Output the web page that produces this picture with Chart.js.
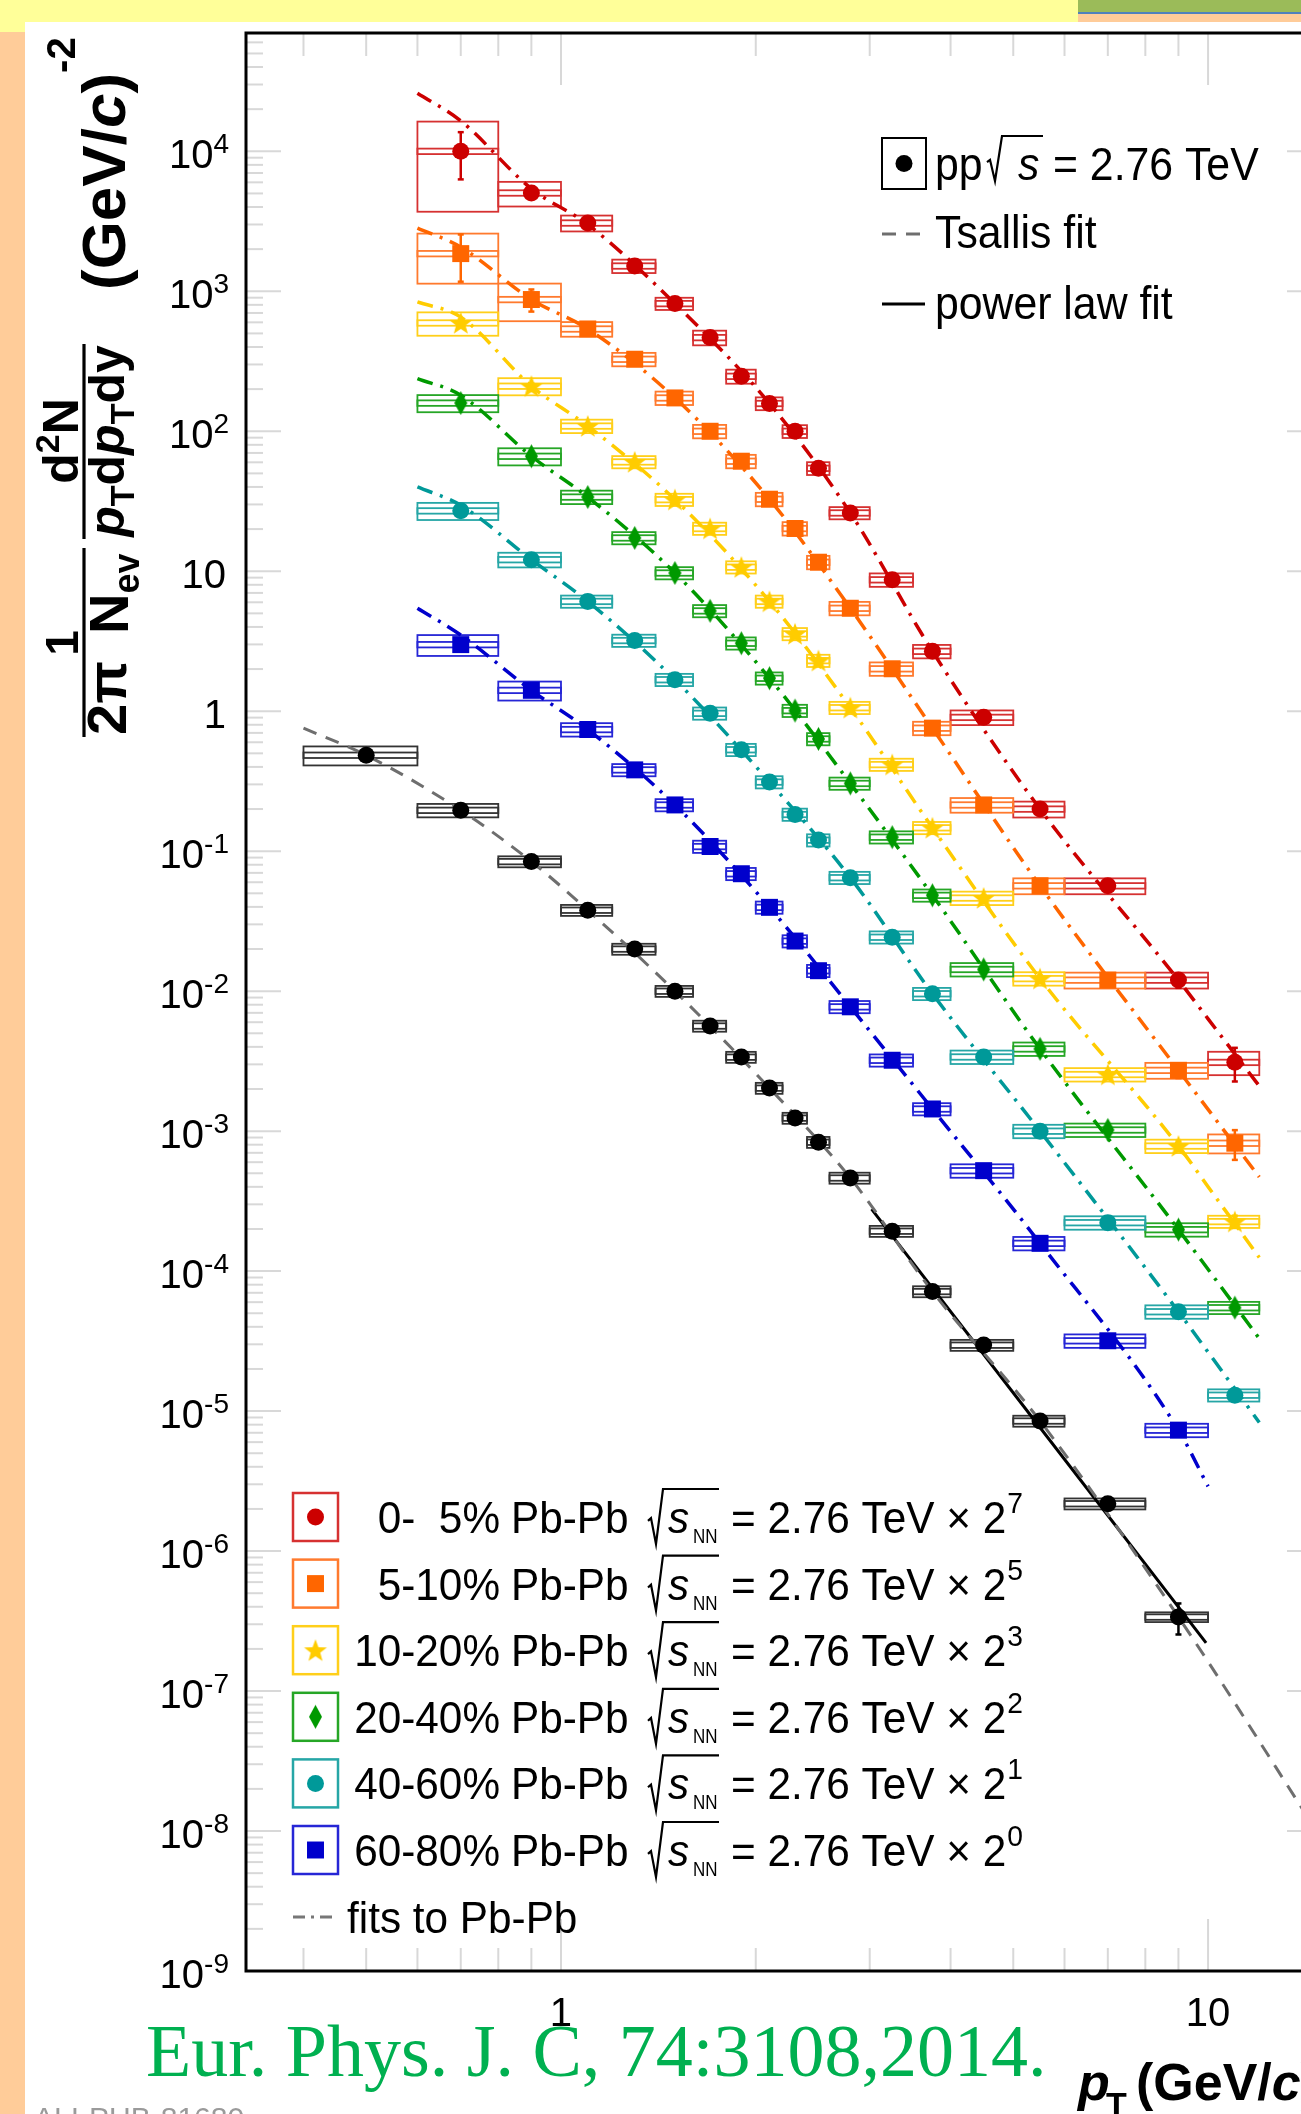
<!DOCTYPE html>
<html>
<head>
<meta charset="utf-8">
<title>pi0 spectra pp and Pb-Pb 2.76 TeV</title>
<script src="https://cdn.jsdelivr.net/npm/chart.js@4.4.0/dist/chart.umd.min.js"></script>
<style>
  html, body { margin: 0; padding: 0; overflow: hidden; background: #fff; }
  #box { width: 1360px; height: 2114px; }
</style>
</head>
<body>
<div id="box"><canvas id="spectra" width="1360" height="2114"></canvas></div>
<script>
const CANVAS_W = 1360, CANVAS_H = 2114;
const X_MIN = 0.326, X_MAX = 15;
const Y_MIN = 1e-9, Y_MAX = 7e4;

// --- axis ticks ---
const X_TICKS = [1, 10];
const Y_TICK_EXP = [-9, -8, -7, -6, -5, -4, -3, -2, -1, 0, 1, 2, 3, 4];

// --- pT bins (GeV/c) ---
const BIN_EDGES = [0.4, 0.6, 0.8, 1.0, 1.2, 1.4, 1.6, 1.8, 2.0, 2.2, 2.4, 2.6, 3.0, 3.5, 4.0, 5.0, 6.0, 8.0, 10.0, 12.0];
const PT_PBPB = [0.7, 0.9, 1.1, 1.3, 1.5, 1.7, 1.9, 2.1, 2.3, 2.5, 2.8, 3.25, 3.75, 4.5, 5.5, 7, 9, 11];
const PT_PP = [0.5, 0.7, 0.9, 1.1, 1.3, 1.5, 1.7, 1.9, 2.1, 2.3, 2.5, 2.8, 3.25, 3.75, 4.5, 5.5, 7, 9];

// yields, already scaled by the factor in the legend
const Y_0_5 = [1.00e4, 5040, 3075, 1516, 817, 467, 247, 158, 100, 54.4, 26.1, 8.69, 2.68, 0.904, 0.200, 0.0566, 0.0120, 0.00310];
const Y_5_10 = [1858, 873, 538, 327, 173, 100, 61.1, 32.7, 20.2, 11.6, 5.44, 2.01, 0.757, 0.214, 0.0566, 0.0120, 0.00272, 0.00082];
const Y_10_20 = [594, 210, 109, 60.4, 32.5, 20.2, 10.7, 6.09, 3.57, 2.30, 1.06, 0.416, 0.147, 0.0463, 0.0123, 0.00254, 0.000783, 0.000226];
const Y_20_40 = [159, 66.3, 33.9, 17.3, 9.72, 5.21, 3.06, 1.72, 1.01, 0.634, 0.305, 0.126, 0.0484, 0.0143, 0.00387, 0.00102, 0.000198, 5.48e-5];
const Y_40_60 = [27.0, 12.1, 6.09, 3.20, 1.68, 0.966, 0.531, 0.312, 0.183, 0.120, 0.0647, 0.0243, 0.00959, 0.00339, 0.00100, 0.000222, 5.13e-5, 1.30e-5];
const Y_60_80 = [2.99, 1.41, 0.740, 0.381, 0.214, 0.108, 0.0690, 0.0397, 0.0228, 0.0140, 0.00773, 0.00321, 0.00144, 0.000522, 0.000158, 3.18e-5, 7.31e-6];
const Y_PP = [0.485, 0.196, 0.0843, 0.0379, 0.0200, 0.0100, 0.00564, 0.00338, 0.00203, 0.00124, 0.000834, 0.000463, 0.000193, 7.15e-5, 2.96e-5, 8.5e-6, 2.18e-6, 3.38e-7];

// relative systematic (box) and statistical (bar) errors
const SYS_0_5 = [0.63, 0.20, 0.13, 0.11, 0.10, 0.12, 0.115, 0.105, 0.105, 0.105, 0.10, 0.11, 0.11, 0.12, 0.13, 0.13, 0.13, 0.19];
const SYS_5_10 = [0.39, 0.30, 0.12, 0.11, 0.11, 0.11, 0.11, 0.11, 0.11, 0.11, 0.11, 0.11, 0.11, 0.12, 0.13, 0.13, 0.13, 0.155];
const SYS_10_20 = [0.19, 0.14, 0.11, 0.10, 0.10, 0.10, 0.10, 0.10, 0.10, 0.10, 0.10, 0.10, 0.10, 0.11, 0.11, 0.11, 0.11, 0.10];
const SYS_20_40 = [0.14, 0.14, 0.11, 0.10, 0.10, 0.10, 0.10, 0.10, 0.10, 0.10, 0.10, 0.10, 0.10, 0.11, 0.11, 0.11, 0.11, 0.10];
const SYS_40_60 = [0.14, 0.12, 0.10, 0.10, 0.10, 0.10, 0.10, 0.10, 0.10, 0.10, 0.10, 0.10, 0.10, 0.11, 0.11, 0.11, 0.11, 0.10];
const SYS_60_80 = [0.17, 0.155, 0.11, 0.10, 0.10, 0.10, 0.10, 0.10, 0.10, 0.10, 0.10, 0.10, 0.10, 0.11, 0.11, 0.11, 0.11];
const SYS_PP = [0.155, 0.11, 0.09, 0.09, 0.09, 0.09, 0.09, 0.09, 0.09, 0.09, 0.09, 0.09, 0.09, 0.09, 0.09, 0.09, 0.09, 0.08];
const SYS_INNER = 0.045;

const STAT_0_5 = [0.37, 0.05, 0.03, 0.03, 0.03, 0.03, 0.03, 0.03, 0.03, 0.03, 0.03, 0.03, 0.04, 0.05, 0.06, 0.08, 0.12, 0.27];
const STAT_5_10 = [0.37, 0.18, 0.04, 0.03, 0.03, 0.03, 0.03, 0.03, 0.03, 0.03, 0.03, 0.03, 0.04, 0.05, 0.06, 0.08, 0.12, 0.24];
const STAT_10_20 = [0.06, 0.04, 0.03, 0.03, 0.03, 0.03, 0.03, 0.03, 0.03, 0.03, 0.03, 0.03, 0.03, 0.04, 0.05, 0.06, 0.08, 0.10];
const STAT_20_40 = [0.05, 0.04, 0.03, 0.03, 0.03, 0.03, 0.03, 0.03, 0.03, 0.03, 0.03, 0.03, 0.03, 0.04, 0.05, 0.06, 0.08, 0.10];
const STAT_40_60 = [0.05, 0.04, 0.03, 0.03, 0.03, 0.03, 0.03, 0.03, 0.03, 0.03, 0.03, 0.03, 0.03, 0.04, 0.05, 0.06, 0.08, 0.10];
const STAT_60_80 = [0.05, 0.04, 0.03, 0.03, 0.03, 0.03, 0.03, 0.03, 0.03, 0.03, 0.03, 0.03, 0.03, 0.04, 0.05, 0.06, 0.10];
const STAT_PP = [0.02, 0.02, 0.02, 0.02, 0.02, 0.02, 0.02, 0.02, 0.02, 0.02, 0.02, 0.02, 0.03, 0.03, 0.04, 0.06, 0.10, 0.25];

// fit curves
const FIT_PT = [0.6, 0.7, 0.9, 1.1, 1.5, 2.1, 2.8, 3.75, 5.5, 9, 10, 12];
const FIT_0_5 = [2.6e4, 1.65e4, 5400, 3000, 817, 158, 26.1, 2.68, 0.200, 0.0120, 0.00634, 0.0021];
const FIT_5_10 = [2830, 2070, 873, 538, 173, 32.7, 5.44, 0.757, 0.0566, 0.00272, 0.00143, 0.00047];
const FIT_10_20 = [839, 654, 210, 109, 32.5, 6.09, 1.06, 0.147, 0.0123, 0.000783, 0.000401, 0.000125];
const FIT_20_40 = [238, 181, 66.3, 33.9, 9.72, 1.72, 0.305, 0.0484, 0.00387, 0.000198, 0.000103, 3.3e-5];
const FIT_40_60 = [40, 29.6, 12.1, 6.09, 1.68, 0.312, 0.0647, 0.00959, 0.00100, 5.13e-5, 2.64e-5, 8.3e-6];
const FIT_60_80 = [5.44, 3.5, 1.41, 0.740, 0.214, 0.0397, 0.00773, 0.00144, 0.000158, 7.31e-6, 2.9e-6, null];
const TSALLIS_PT = [0.4, 0.5, 0.7, 0.9, 1.1, 1.5, 2.1, 2.8, 3.75, 5.5, 9, 15];
const TSALLIS_Y = [0.757, 0.485, 0.196, 0.0843, 0.0379, 0.0100, 0.00203, 0.000463, 7.15e-5, 8.5e-6, 3.38e-7, 8.7e-9];
const POWLAW_PT = [3.02, 9.93];
const POWLAW_Y = [2.77e-4, 2.21e-7];

const LEG_LABELS = ['0-  5%', '5-10%', '10-20%', '20-40%', '40-60%', '60-80%'];
const LEG_EXP = ['7', '5', '3', '2', '1', '0'];

// ---------------------------------------------------------------
const SANS = "'Liberation Sans', Arial, Helvetica, sans-serif";
const f = (s) => s + ' ' + SANS;

function starImg(color, R, r) {
  const c = document.createElement('canvas');
  const s = Math.ceil(2 * R + 2);
  c.width = c.height = s;
  const g = c.getContext('2d');
  g.fillStyle = color;
  g.beginPath();
  for (let k = 0; k < 10; k++) {
    const a = -Math.PI / 2 + k * Math.PI / 5;
    const rr = k % 2 ? r : R;
    g.lineTo(s / 2 + rr * Math.cos(a), s / 2 + 1 + rr * Math.sin(a));
  }
  g.closePath();
  g.fill();
  return c;
}
function diamondImg(color, hw, hh) {
  const c = document.createElement('canvas');
  c.width = Math.ceil(2 * hw + 2); c.height = Math.ceil(2 * hh + 2);
  const g = c.getContext('2d');
  const cx = c.width / 2, cy = c.height / 2;
  g.fillStyle = color;
  g.beginPath();
  g.moveTo(cx, cy - hh); g.lineTo(cx + hw, cy); g.lineTo(cx, cy + hh); g.lineTo(cx - hw, cy);
  g.closePath();
  g.fill();
  return c;
}

const STAR = starImg('#ffcc00', 12, 5);
const DIAMOND = diamondImg('#009900', 6.5, 12);

const SERIES = [
  { pt: PT_PBPB, y: Y_0_5, sys: SYS_0_5, stat: STAT_0_5, color: '#cc0000', box: '#d63131', marker: 'circle', r: 8.5 },
  { pt: PT_PBPB, y: Y_5_10, sys: SYS_5_10, stat: STAT_5_10, color: '#ff6600', box: '#ff7a2e', marker: 'rect', r: 12 },
  { pt: PT_PBPB, y: Y_10_20, sys: SYS_10_20, stat: STAT_10_20, color: '#ffcc00', box: '#ffcf1a', marker: STAR, r: 10 },
  { pt: PT_PBPB, y: Y_20_40, sys: SYS_20_40, stat: STAT_20_40, color: '#009900', box: '#26a626', marker: DIAMOND, r: 10 },
  { pt: PT_PBPB, y: Y_40_60, sys: SYS_40_60, stat: STAT_40_60, color: '#009999', box: '#26a6a6', marker: 'circle', r: 8.5 },
  { pt: PT_PBPB, y: Y_60_80, sys: SYS_60_80, stat: STAT_60_80, color: '#0000cc', box: '#2626d6', marker: 'rect', r: 12 },
  { pt: PT_PP, y: Y_PP, sys: SYS_PP, stat: STAT_PP, color: '#000000', box: '#333333', marker: 'circle', r: 8.5 }
];

const DASHDOT = [16, 8, 3, 8];
const FITS = [
  { x: FIT_PT, y: FIT_0_5, color: '#cc0000', dash: DASHDOT, w: 3.5 },
  { x: FIT_PT, y: FIT_5_10, color: '#ff6600', dash: DASHDOT, w: 3.5 },
  { x: FIT_PT, y: FIT_10_20, color: '#ffcc00', dash: DASHDOT, w: 3.5 },
  { x: FIT_PT, y: FIT_20_40, color: '#009900', dash: DASHDOT, w: 3.5 },
  { x: FIT_PT, y: FIT_40_60, color: '#009999', dash: DASHDOT, w: 3.5 },
  { x: FIT_PT, y: FIT_60_80, color: '#0000cc', dash: DASHDOT, w: 3.5 },
  { x: TSALLIS_PT, y: TSALLIS_Y, color: '#6e6e6e', dash: [14, 10], w: 3 },
  { x: POWLAW_PT, y: POWLAW_Y, color: '#000000', dash: [], w: 3 }
];

function binOf(pt) {
  for (let j = 0; j < BIN_EDGES.length - 1; j++) {
    if (pt > BIN_EDGES[j] && pt < BIN_EDGES[j + 1]) return [BIN_EDGES[j], BIN_EDGES[j + 1]];
  }
  return [pt, pt];
}

function put(c, s, x, y, font, o = {}) {
  c.save();
  c.font = font;
  c.fillStyle = o.color || '#000';
  c.textAlign = o.align || 'left';
  c.textBaseline = 'alphabetic';
  c.translate(x, y);
  c.scale(o.sx || 1, 1);
  c.fillText(s, 0, 0);
  const w = c.measureText(s).width * (o.sx || 1);
  c.restore();
  return w;
}

// text running upwards; x is the baseline on screen, y where the text starts
function rput(c, s, x, y, font) {
  c.save();
  c.translate(x, y);
  c.rotate(-Math.PI / 2);
  c.font = font;
  c.fillStyle = '#000';
  c.fillText(s, 0, 0);
  const w = c.measureText(s).width;
  c.restore();
  return w;
}
function rrun(c, runs, xb, yStart) {
  let y = yStart;
  runs.forEach(r => { y -= rput(c, r.t, xb + (r.dx || 0), y, r.f) + (r.gap || 0); });
  return yStart - y;
}
function rlen(c, runs) {
  let L = 0;
  runs.forEach(r => { c.font = r.f; L += c.measureText(r.t).width + (r.gap || 0); });
  return L;
}

function seg(c, x1, y1, x2, y2) {
  c.beginPath(); c.moveTo(x1, y1); c.lineTo(x2, y2); c.stroke();
}

function radical(c, x0, x1, yTop, yBot) {
  c.save();
  c.strokeStyle = '#000';
  c.lineWidth = 2.2;
  c.beginPath();
  const h = yBot - yTop;
  c.moveTo(x0, yBot - h * 0.42);
  c.lineTo(x0 + 3, yBot - h * 0.47);
  c.lineTo(x0 + 8, yBot);
  c.lineTo(x0 + 15, yTop);
  c.lineTo(x1, yTop);
  c.stroke();
  c.restore();
}

function drawMarker(c, s, x, y) {
  c.save();
  c.fillStyle = s.color;
  if (s.marker === 'circle') {
    c.beginPath(); c.arc(x, y, s.r, 0, 2 * Math.PI); c.fill();
  } else if (s.marker === 'rect') {
    const h = s.r * Math.SQRT1_2;
    c.fillRect(x - h, y - h, 2 * h, 2 * h);
  } else {
    c.drawImage(s.marker, x - s.marker.width / 2, y - s.marker.height / 2);
  }
  c.restore();
}

// --- plugins ---
const pageBackground = {
  id: 'pageBackground',
  beforeDraw(chart) {
    const c = chart.ctx;
    c.save();
    c.fillStyle = '#ffffff'; c.fillRect(0, 0, CANVAS_W, CANVAS_H);
    c.fillStyle = '#ffff99'; c.fillRect(0, 0, 1078, 22); c.fillRect(0, 0, 25, 32);
    c.fillStyle = '#ffcc99'; c.fillRect(0, 32, 25, CANVAS_H - 32); c.fillRect(1078, 14, CANVAS_W - 1078, 8);
    c.fillStyle = '#9bbb59'; c.fillRect(1078, 0, CANVAS_W - 1078, 12);
    c.fillStyle = '#4f81bd'; c.fillRect(1078, 12, CANVAS_W - 1078, 2);
    c.restore();
  }
};

const ticksAndBoxes = {
  id: 'ticksAndBoxes',
  beforeDatasetsDraw(chart) {
    const c = chart.ctx, a = chart.chartArea, xs = chart.scales.x, ys = chart.scales.y;
    c.save();
    // inner ROOT-style ticks
    c.strokeStyle = '#d8d8d8';
    c.lineWidth = 2;
    for (let k = -1; k <= 1; k++) {
      for (let n = 1; n <= 9; n++) {
        const v = n * Math.pow(10, k);
        if (v < X_MIN || v > X_MAX) continue;
        const px = xs.getPixelForValue(v), L = n === 1 ? 52 : 23;
        seg(c, px, a.bottom, px, a.bottom - L);
        seg(c, px, a.top, px, a.top + L);
      }
    }
    for (let k = -9; k <= 4; k++) {
      for (let n = 1; n <= 9; n++) {
        const v = n * Math.pow(10, k);
        if (v < Y_MIN || v > Y_MAX) continue;
        const py = ys.getPixelForValue(v), L = n === 1 ? 35 : 17;
        seg(c, a.left, py, a.left + L, py);
        seg(c, a.right, py, a.right - L, py);
      }
    }
    // systematic boxes (outer and inner) and stat bars
    c.beginPath(); c.rect(a.left, a.top, a.right - a.left, a.bottom - a.top); c.clip();
    SERIES.forEach(s => {
      s.y.forEach((v, i) => {
        const [lo, hi] = binOf(s.pt[i]);
        const x1 = xs.getPixelForValue(lo), x2 = xs.getPixelForValue(hi);
        const yt = ys.getPixelForValue(v * (1 + s.sys[i])), yb = ys.getPixelForValue(v * (1 - s.sys[i]));
        const it = ys.getPixelForValue(v * (1 + SYS_INNER)), ib = ys.getPixelForValue(v * (1 - SYS_INNER));
        c.strokeStyle = s.box;
        c.lineWidth = 1.8;
        c.strokeRect(x1, yt, x2 - x1, yb - yt);
        c.strokeRect(x1, it, x2 - x1, ib - it);
        const xc = xs.getPixelForValue(s.pt[i]);
        const st = ys.getPixelForValue(v * (1 + s.stat[i])), sb = ys.getPixelForValue(v * (1 - s.stat[i]));
        c.strokeStyle = s.color;
        c.lineWidth = 2.5;
        seg(c, xc, st, xc, sb);
        seg(c, xc - 3, st, xc + 3, st);
        seg(c, xc - 3, sb, xc + 3, sb);
      });
    });
    c.restore();
  }
};

const frameAndText = {
  id: 'frameAndText',
  afterDraw(chart) {
    const c = chart.ctx, a = chart.chartArea, xs = chart.scales.x, ys = chart.scales.y;
    c.save();
    c.strokeStyle = '#000';
    c.lineWidth = 3;
    c.strokeRect(a.left, a.top, a.right - a.left, a.bottom - a.top);

    // tick labels
    const F40 = f('40px'), F28 = f('28px');
    Y_TICK_EXP.forEach(k => {
      const py = ys.getPixelForValue(Math.pow(10, k));
      if (k === 0 || k === 1) {
        put(c, k === 0 ? '1' : '10', 226, py + 17, F40, { align: 'right' });
      } else {
        const sup = String(k);
        c.font = F28;
        const sw = c.measureText(sup).width;
        put(c, sup, 229 - sw, py + 2, F28);
        put(c, '10', 229 - sw, py + 17, F40, { align: 'right' });
      }
    });
    X_TICKS.forEach(v => put(c, String(v), xs.getPixelForValue(v), 2026, F40, { align: 'center' }));

    // y title: 1/(2pi N_ev) d2N/(pT dpT dy) (GeV/c)^-2
    const B46 = f('bold 46px'), B50 = f('bold 50px'), BI50 = f('italic bold 50px');
    const B56 = f('bold 56px'), B36 = f('bold 36px'), B34 = f('bold 34px');
    c.lineWidth = 3.2;
    seg(c, 84, 737, 84, 548);
    seg(c, 84, 539, 84, 344);
    const num1 = [{ t: '1', f: B46 }];
    rrun(c, num1, 78, 643 + rlen(c, num1) / 2);
    rrun(c, [{ t: '2\u03c0', f: B56 }], 126, 735);
    rrun(c, [{ t: 'N', f: B56 }, { t: 'ev', f: B36, dx: 11 }], 128, 634);
    const num2 = [{ t: 'd', f: B50 }, { t: '2', f: B34, dx: -19 }, { t: 'N', f: B50 }];
    rrun(c, num2, 78, 441 + rlen(c, num2) / 2);
    const den2 = [{ t: 'p', f: BI50 }, { t: 'T', f: B34, dx: 10 }, { t: 'd', f: B50 }, { t: 'p', f: BI50 },
                  { t: 'T', f: B34, dx: 10 }, { t: 'd', f: B50 }, { t: 'y', f: B50 }];
    rrun(c, den2, 124, 441 + rlen(c, den2) / 2);
    const unit = [{ t: '(GeV/', f: f('bold 62px') }, { t: 'c', f: f('italic bold 62px') }, { t: ')', f: f('bold 62px') },
                  { t: '-2', f: f('bold 40px'), dx: -50 }];
    rrun(c, unit, 125, 290);

    // x title
    const B52 = f('bold 52px');
    put(c, 'p', 1078, 2100, f('italic bold 52px'));
    put(c, 'T', 1106, 2116, f('bold 34px'));
    let xx = 1136;
    xx += put(c, '(GeV/', xx, 2100, B52);
    xx += put(c, 'c', xx, 2100, f('italic bold 52px'));
    put(c, ')', xx, 2100, B52);

    // legend: pp
    c.strokeStyle = '#000';
    c.lineWidth = 2;
    c.strokeRect(882, 138, 44, 51);
    drawMarker(c, SERIES[6], 904, 163.5);
    const F47 = f('47px'), FI47 = f('italic 47px');
    put(c, 'pp', 935, 180, F47, { sx: 0.91 });
    radical(c, 987, 1043, 136, 181);
    put(c, 's', 1018, 180, FI47, { sx: 0.91 });
    put(c, '= 2.76 TeV', 1053, 180, F47, { sx: 0.91 });
    c.strokeStyle = '#6e6e6e';
    c.lineWidth = 3;
    seg(c, 882, 234, 896, 234);
    seg(c, 906, 234, 920, 234);
    put(c, 'Tsallis fit', 935, 248, F47, { sx: 0.91 });
    c.strokeStyle = '#000';
    seg(c, 882, 304, 925, 304);
    put(c, 'power law fit', 935, 319, F47, { sx: 0.91 });

    // legend: Pb-Pb
    const F45 = f('45px'), FI45 = f('italic 45px');
    for (let i = 0; i < 6; i++) {
      const s = SERIES[i];
      const yc = 1517 + i * 66.6, yb = yc + 16;
      c.strokeStyle = s.box;
      c.lineWidth = 2.5;
      c.strokeRect(293, yc - 24, 45, 48);
      drawMarker(c, s, 315.5, yc);
      put(c, LEG_LABELS[i], 500, yb, F45, { align: 'right', sx: 0.94 });
      put(c, 'Pb-Pb', 511, yb, F45, { sx: 0.94 });
      radical(c, 648, 719, yc - 28, yc + 27);
      put(c, 's', 668, yb, FI45, { sx: 0.94 });
      put(c, 'NN', 693, yc + 26, f('20px'), { sx: 0.85 });
      const w = put(c, '= 2.76 TeV \u00d7 2', 731, yb, F45, { sx: 0.94 });
      put(c, LEG_EXP[i], 731 + w + 1, yc - 4, f('30px'), { sx: 0.94 });
    }
    c.strokeStyle = '#777';
    c.lineWidth = 3;
    c.setLineDash([12, 6, 3, 6]);
    seg(c, 293, 1917, 337, 1917);
    c.setLineDash([]);
    put(c, 'fits to Pb-Pb', 347, 1933, F45, { sx: 0.94 });

    // citation and figure id
    put(c, 'Eur. Phys. J. C, 74:3108,2014.', 146, 2076, "74px 'Liberation Serif', 'Times New Roman', serif", { color: '#00b050' });
    put(c, 'ALI-PUB-81680', 34, 2128, f('30px'), { color: '#9a9a9a' });
    c.restore();
  }
};

// --- datasets ---
const datasets = [];
FITS.forEach(fit => datasets.push({
  data: fit.x.map((x, i) => ({ x, y: fit.y[i] })).filter(p => p.y != null),
  showLine: true,
  pointRadius: 0,
  borderColor: fit.color,
  borderWidth: fit.w,
  borderDash: fit.dash,
  cubicInterpolationMode: 'monotone',
  fill: false,
  order: 2
}));
SERIES.forEach(s => datasets.push({
  data: s.y.map((y, i) => ({ x: s.pt[i], y })),
  showLine: false,
  pointStyle: s.marker,
  pointRadius: s.r,
  backgroundColor: s.color,
  borderColor: s.color,
  borderWidth: 0,
  order: 1
}));

new Chart(document.getElementById('spectra').getContext('2d'), {
  type: 'scatter',
  data: { datasets },
  options: {
    responsive: false,
    animation: false,
    events: [],
    layout: { padding: { left: 246, top: 33, right: CANVAS_W - 1322, bottom: CANVAS_H - 1971 } },
    plugins: { legend: { display: false }, tooltip: { enabled: false } },
    scales: {
      x: { type: 'logarithmic', min: X_MIN, max: X_MAX, bounds: 'data', display: false },
      y: { type: 'logarithmic', min: Y_MIN, max: Y_MAX, bounds: 'data', display: false }
    }
  },
  plugins: [pageBackground, ticksAndBoxes, frameAndText]
});
</script>
</body>
</html>
